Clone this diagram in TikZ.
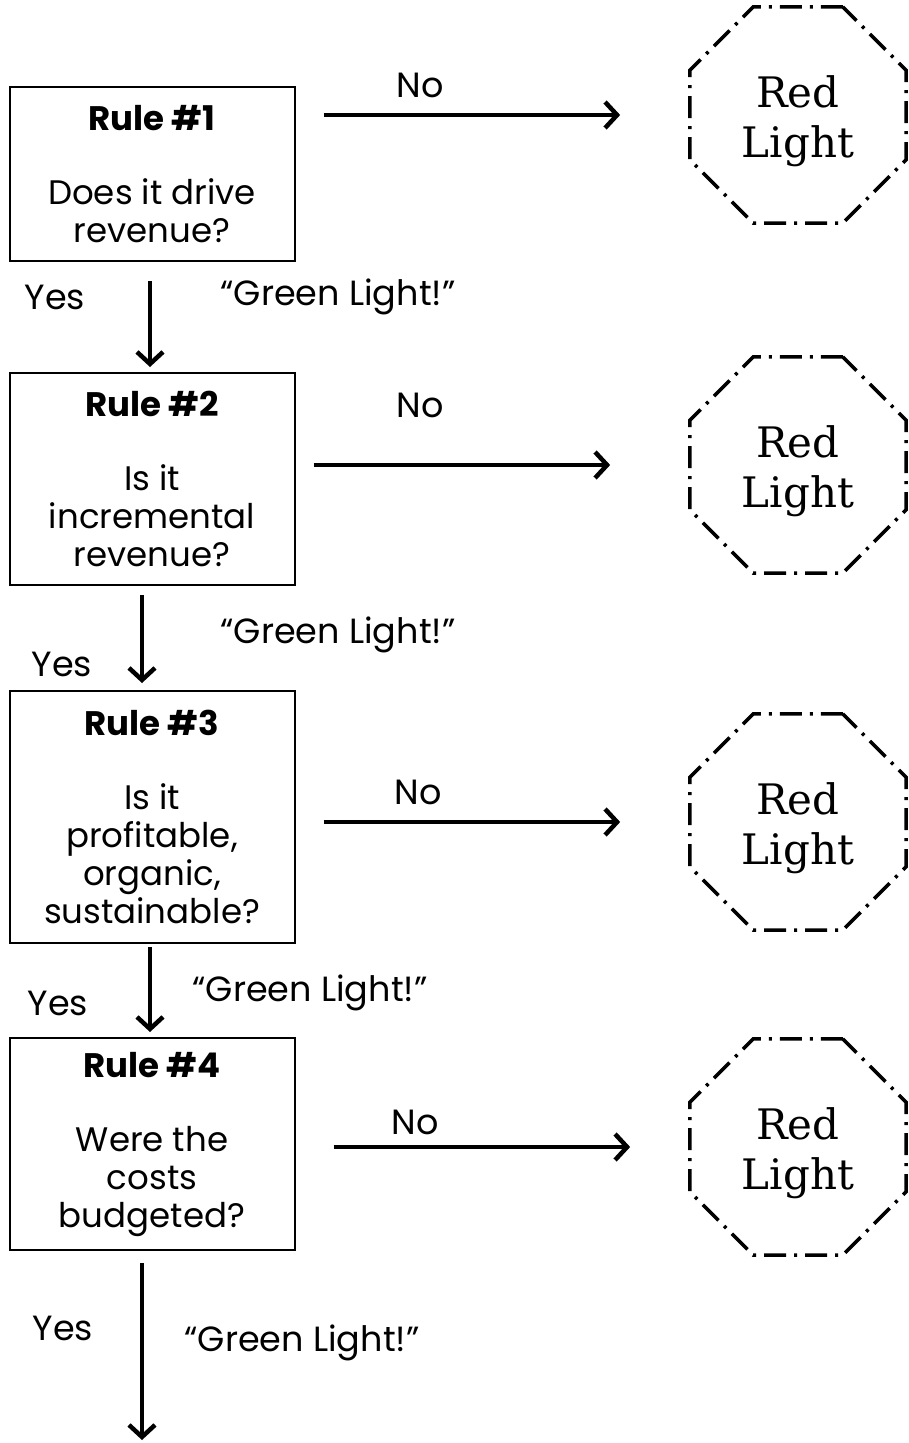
\documentclass[tikz,border=0pt]{standalone}
\usepackage{fontspec}
\setmainfont{Poppins}
\newfontfamily\redfont{DejaVu Serif}
\usetikzlibrary{shapes.geometric,arrows.meta}
\tikzset{
  rulebox/.style={draw=black, line width=2pt, minimum width=285pt, align=center, inner sep=0pt,
    font=\fontsize{34}{38}\selectfont},
  stop/.style={regular polygon, regular polygon sides=8, minimum size=234pt, inner sep=0pt,
    draw=black, line width=3.5pt, dash pattern=on 22pt off 8pt on 3pt off 8pt},
  redtext/.style={align=center, inner sep=0pt, font=\redfont\fontsize{42}{50}\selectfont},
  arr/.style={line width=4.5pt, -{Straight Barb[length=12pt,width=26pt,line width=4.5pt]}},
  lab/.style={font=\fontsize{35}{40}\selectfont, inner sep=0pt}
}
\begin{document}
\begin{tikzpicture}[x=1pt,y=-1pt]
\useasboundingbox (0,0) rectangle (908,1443);
% boxes
\node[rulebox, minimum height=174pt] (b1) at (152,174) {\textbf{Rule \#1}\\[36pt]Does it drive\\revenue?};
\node[rulebox, minimum height=212pt] (b2) at (152,479) {\textbf{Rule \#2}\\[36pt]Is it\\incremental\\revenue?};
\node[rulebox, minimum height=252pt] (b3) at (152,817) {\textbf{Rule \#3}\\[36pt]Is it\\profitable,\\organic,\\sustainable?};
\node[rulebox, minimum height=212pt] (b4) at (152,1144) {\textbf{Rule \#4}\\[36pt]Were the\\costs\\budgeted?};
% octagons
\node[stop] (r1) at (798,115) {};
\node[stop] (r2) at (798,465) {};
\node[stop] (r3) at (798,822) {};
\node[stop] (r4) at (798,1147) {};
\node[redtext] (t1) at ([yshift=-6pt]r1.center) {Red\\Light};
\node[redtext] (t2) at ([yshift=-6pt]r2.center) {Red\\Light};
\node[redtext] (t3) at ([yshift=-6pt]r3.center) {Red\\Light};
\node[redtext] (t4) at ([yshift=-6pt]r4.center) {Red\\Light};
% end coordinate
\coordinate (endpt) at (142,1440);
% down arrows
\draw[arr, shorten <=19pt, shorten >=5pt] (b1.south -| 150,0) -- (b2.north -| 150,0);
\draw[arr, shorten <=9pt, shorten >=7pt] (b2.south -| 142,0) -- (b3.north -| 142,0);
\draw[arr, shorten <=3pt, shorten >=5pt] (b3.south -| 150,0) -- (b4.north -| 150,0);
\draw[arr, shorten <=12pt] (b4.south -| endpt) -- (endpt);
% right arrows
\draw[arr, shorten <=28pt, shorten >=68pt] (b1.east |- r1.center) -- (r1.west);
\draw[arr, shorten <=18pt, shorten >=78pt] (b2.east |- r2.center) -- (r2.west);
\draw[arr, shorten <=28pt, shorten >=68pt] (b3.east |- r3.center) -- (r3.west);
\draw[arr, shorten <=38pt, shorten >=58pt] (b4.east |- r4.center) -- (r4.west);
% labels
\node[lab] (no1) at (420,85) {No};
\node[lab] (no2) at (420,405) {No};
\node[lab] (no3) at (418,792) {No};
\node[lab] (no4) at (415,1122) {No};
\node[lab] (y1) at (55,297) {Yes};
\node[lab] (y2) at (62,664) {Yes};
\node[lab] (y3) at (58,1003) {Yes};
\node[lab] (y4) at (63,1328) {Yes};
\node[lab] (g1) at (338,297) {“Green Light!”};
\node[lab] (g2) at (338,635) {“Green Light!”};
\node[lab] (g3) at (310,993) {“Green Light!”};
\node[lab] (g4) at (302,1343) {“Green Light!”};
\end{tikzpicture}
\end{document}
